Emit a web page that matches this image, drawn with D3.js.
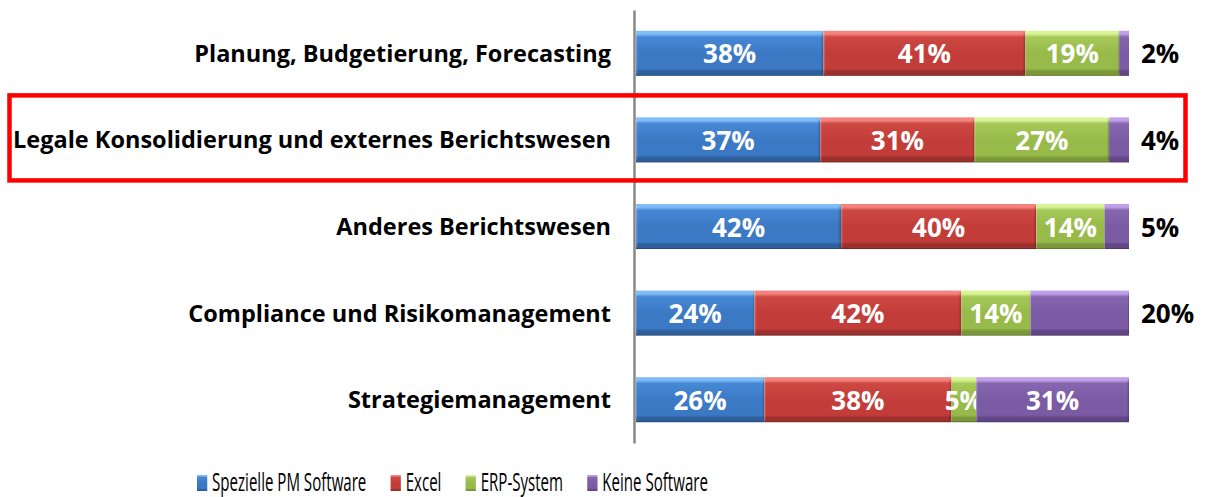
<!DOCTYPE html>
<html>
<head>
<meta charset="utf-8">
<script src="https://cdn.jsdelivr.net/npm/d3@7"></script>
<style>
  body { margin: 0; background: #fff; }
  svg { display: block; font-family: "Open Sans", sans-serif; }
</style>
</head>
<body>
<svg width="1205" height="497"></svg>
<script>
// Werte (Prozent je Zeile)
const categories = [
  'Planung, Budgetierung, Forecasting',
  'Legale Konsolidierung und externes Berichtswesen',
  'Anderes Berichtswesen',
  'Compliance und Risikomanagement',
  'Strategiemanagement'
];
const seriesNames = ['Spezielle PM Software', 'Excel', 'ERP-System', 'Keine Software'];
const spezielle = [38, 37, 42, 24, 26];
const excel = [41, 31, 40, 42, 38];
const erp = [19, 27, 14, 14, 5];
const keine = [2, 4, 5, 20, 31];
// purple label sits right of the bar in the first four rows
const keineOutside = [true, true, true, true, false];
const highlighted = categories[1];

const svg = d3.select('svg');

// colour ramps for the bevelled look: top light, body, body, bottom dark, edge
const palette = {
  'Spezielle PM Software': ['#80bcf6', '#4688d6', '#3c79c4', '#2e5f9c', '#213f66'],
  'Excel': ['#f4837d', '#ce4843', '#c23d39', '#9b302d', '#661f1d'],
  'ERP-System': ['#d8f496', '#a5c859', '#97ba4b', '#7a9838', '#526624'],
  'Keine Software': ['#c0a0e8', '#8766b0', '#7b5ba4', '#624686', '#422f5c']
};

const table = categories.map((c, i) => ({
  category: c,
  'Spezielle PM Software': spezielle[i],
  'Excel': excel[i],
  'ERP-System': erp[i],
  'Keine Software': keine[i]
}));

const stacked = d3.stack()
  .keys(seriesNames)
  .offset(d3.stackOffsetExpand)(table);

const xScale = d3.scaleLinear()
  .domain([0, 1])
  .range([636, 1129]);

const yScale = d3.scaleBand()
  .domain(categories)
  .range([10, 443])
  .paddingInner(0.48)
  .paddingOuter(0.24);

// gradients
const defs = svg.append('defs');
seriesNames.forEach((s, i) => {
  const p = palette[s];
  const g = defs.append('linearGradient')
    .attr('id', 'grad' + i)
    .attr('x1', 0).attr('y1', 0).attr('x2', 0).attr('y2', 1);
  [[0, p[0]], [0.07, p[0]], [0.14, p[1]], [0.5, p[2]], [0.84, p[2]], [0.9, p[3]], [0.97, p[3]], [1, p[4]]]
    .forEach(([o, c]) => g.append('stop').attr('offset', o).attr('stop-color', c));
});
const side = defs.append('linearGradient')
  .attr('id', 'side').attr('x1', 0).attr('x2', 1).attr('y1', 0).attr('y2', 0);
side.append('stop').attr('offset', 0).attr('stop-color', '#fff').attr('stop-opacity', 0.25);
side.append('stop').attr('offset', 0.012).attr('stop-color', '#fff').attr('stop-opacity', 0);
side.append('stop').attr('offset', 0.985).attr('stop-color', '#000').attr('stop-opacity', 0);
side.append('stop').attr('offset', 1).attr('stop-color', '#000').attr('stop-opacity', 0.25);

// axis line (category axis without ticks)
const yAxis = svg.append('g')
  .attr('transform', 'translate(634,0)')
  .call(d3.axisLeft(yScale).tickSize(0).tickFormat(''));
yAxis.select('.domain').attr('stroke', '#888').attr('stroke-width', 2.5);

// bars
const layer = svg.append('g').selectAll('g').data(stacked)
  .enter().append('g');

layer.selectAll('rect.seg')
  .data(d => d.map(v => ({ key: d.key, v, cat: v.data.category })))
  .enter().append('rect')
  .attr('class', 'seg')
  .attr('x', d => xScale(d.v[0]))
  .attr('y', d => yScale(d.cat))
  .attr('width', d => xScale(d.v[1]) - xScale(d.v[0]))
  .attr('height', yScale.bandwidth())
  .attr('fill', d => 'url(#grad' + seriesNames.indexOf(d.key) + ')');

layer.selectAll('rect.side')
  .data(d => d.map(v => ({ key: d.key, v, cat: v.data.category })))
  .enter().append('rect')
  .attr('class', 'side')
  .attr('x', d => xScale(d.v[0]))
  .attr('y', d => yScale(d.cat) + 2)
  .attr('width', d => xScale(d.v[1]) - xScale(d.v[0]))
  .attr('height', yScale.bandwidth() - 4)
  .attr('fill', 'url(#side)');

// value labels
const fmt = v => v + '%';
layer.selectAll('text')
  .data(d => d.map((v, i) => ({ key: d.key, v, cat: v.data.category, value: v.data[d.key], i })))
  .enter().append('text')
  .each(function (d) {
    const out = d.key === 'Keine Software' && keineOutside[d.i];
    const cy = yScale(d.cat) + yScale.bandwidth() / 2;
    d3.select(this)
      .attr('x', out ? xScale(1) + 12 : (xScale(d.v[0]) + xScale(d.v[1])) / 2)
      .attr('y', cy + 10)
      .attr('text-anchor', out ? 'start' : 'middle')
      .attr('fill', out ? '#000' : '#fff')
      .attr('font-size', 26)
      .attr('font-weight', 'bold')
      .text(fmt(d.value));
  });

// category labels
const catG = svg.append('g').attr('transform', 'translate(611,0)');
catG.selectAll('text').data(categories)
  .enter().append('text')
  .attr('x', 0)
  .attr('y', d => yScale(d) + yScale.bandwidth() / 2 + 8.5)
  .attr('text-anchor', 'end')
  .attr('font-size', 24)
  .attr('font-weight', 'bold')
  .attr('fill', '#000')
  .text(d => d);
let maxW = 0;
catG.selectAll('text').each(function () { maxW = Math.max(maxW, this.getComputedTextLength()); });
const kCat = Math.min(1, 598 / maxW);
catG.attr('transform', `translate(611,0) scale(${kCat},1)`);

// highlight box round the second row
const hy = yScale(highlighted);
svg.append('rect')
  .attr('x', 9.5)
  .attr('y', hy - 22)
  .attr('width', 1176)
  .attr('height', yScale.bandwidth() + 40)
  .attr('fill', 'none')
  .attr('stroke', '#ff0000')
  .attr('stroke-width', 4.5);

// legend
const legend = svg.append('g');
let lx = 0;
seriesNames.forEach((s, i) => {
  const item = legend.append('g').attr('transform', `translate(${lx},0)`);
  item.append('rect')
    .attr('x', 0).attr('y', -16)
    .attr('width', 17).attr('height', 16)
    .attr('fill', 'url(#grad' + i + ')');
  const t = item.append('text')
    .attr('x', 25)
    .attr('y', 0)
    .attr('font-size', 25)
    .attr('fill', '#000')
    .text(s);
  lx += 25 + t.node().getComputedTextLength() + 40;
});
const legW = lx - 40;
const kLeg = 511 / legW;
legend.attr('transform', `translate(197,491) scale(${kLeg},1)`);
</script>
</body>
</html>
